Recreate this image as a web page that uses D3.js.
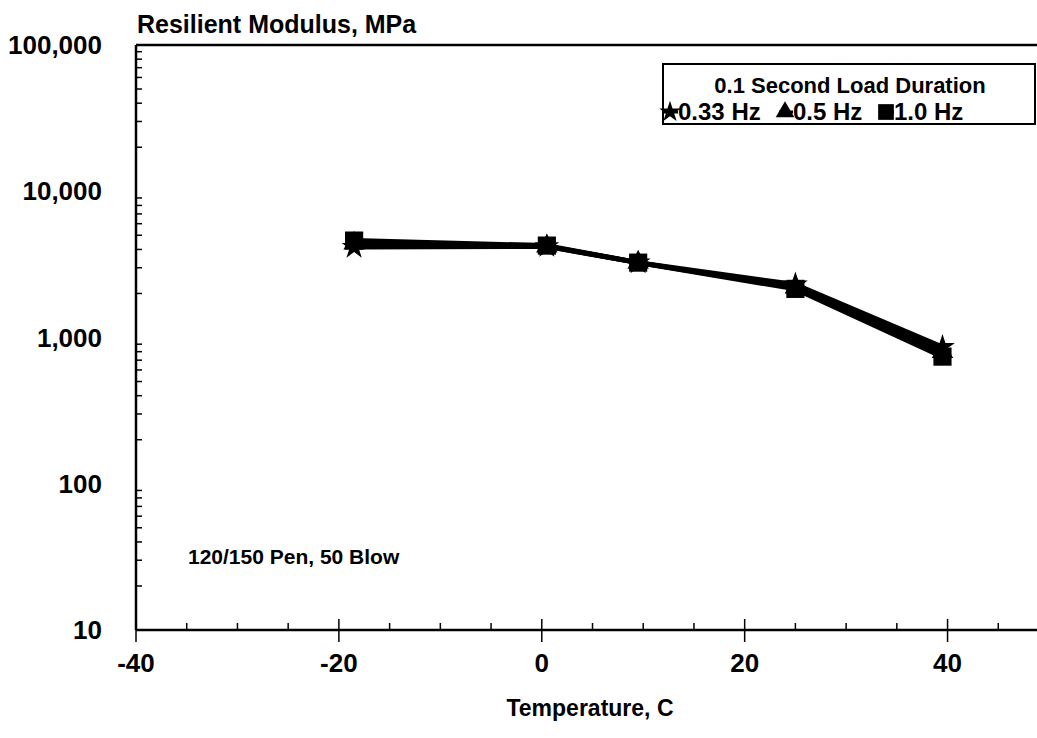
<!DOCTYPE html>
<html>
<head>
<meta charset="utf-8">
<script src="https://cdn.jsdelivr.net/npm/d3@7"></script>
<style>
  body { margin: 0; background: #fff; }
  svg { font-family: Arial, "Liberation Sans", sans-serif; }
</style>
</head>
<body>
<svg id="chart"></svg>
<script>
// temperatures (C) and resilient modulus (MPa) per loading frequency
const temps = [-18.5, 0.5, 9.5, 25, 39.5];
const hz033 = [4150, 4200, 3250, 2300, 860];
const hz05 = [4400, 4200, 3250, 2200, 800];
const hz10 = [4600, 4250, 3250, 2150, 740];
const seriesNames = ["0.33 Hz", "0.5 Hz", "1.0 Hz"];
const xTicks = [-40, -20, 0, 20, 40];
const yTicks = [10, 100, 1000, 10000, 100000];

const width = 1037, height = 738;
const margin = { top: 45, right: -12, bottom: 108, left: 136 };

const svg = d3.select("#chart").attr("width", width).attr("height", height);

const x = d3.scaleLinear().domain([-40, 50]).range([margin.left, width - margin.right]);
const y = d3.scaleLog().domain([10, 100000]).range([height - margin.bottom, margin.top]);

// top frame line
svg.append("line")
  .attr("x1", margin.left).attr("x2", width)
  .attr("y1", y(100000)).attr("y2", y(100000))
  .attr("stroke", "#000").attr("stroke-width", 2.5);

// y axis: labels, minor ticks inside
const yAxis = svg.append("g").attr("transform", `translate(${margin.left},0)`);
yAxis.append("line")
  .attr("y1", y(10)).attr("y2", y(100000))
  .attr("stroke", "#000").attr("stroke-width", 2.5);
const minorY = [];
for (let d = 10; d < 100000; d *= 10) {
  for (let k = 2; k <= 9; k++) minorY.push(d * k);
}
yAxis.selectAll("line.minor").data(minorY).enter().append("line")
  .attr("class", "minor")
  .attr("x1", 0).attr("x2", 6)
  .attr("y1", d => y(d)).attr("y2", d => y(d))
  .attr("stroke", "#000").attr("stroke-width", 1.5);
yAxis.selectAll("text").data(yTicks).enter().append("text")
  .attr("x", -34).attr("y", d => y(d))
  .attr("dy", "0.35em")
  .attr("text-anchor", "end")
  .style("font-size", "26px").style("font-weight", "bold")
  .text(d3.format(","));

// x axis
const xAxis = svg.append("g").attr("transform", `translate(0,${y(10)})`);
xAxis.append("line")
  .attr("x1", margin.left).attr("x2", width)
  .attr("stroke", "#000").attr("stroke-width", 2.5);
xAxis.selectAll("line.major").data(xTicks).enter().append("line")
  .attr("class", "major")
  .attr("x1", d => x(d)).attr("x2", d => x(d))
  .attr("y1", -11).attr("y2", 12)
  .attr("stroke", "#000").attr("stroke-width", 1.5);
const minorX = d3.range(-35, 50, 5).filter(d => d % 20 !== 0);
xAxis.selectAll("line.minor").data(minorX).enter().append("line")
  .attr("class", "minor")
  .attr("x1", d => x(d)).attr("x2", d => x(d))
  .attr("y1", -7).attr("y2", 0)
  .attr("stroke", "#000").attr("stroke-width", 1.5);
xAxis.selectAll("text").data(xTicks).enter().append("text")
  .attr("x", d => x(d)).attr("y", 24)
  .attr("dy", "0.71em")
  .attr("text-anchor", "middle")
  .style("font-size", "26px").style("font-weight", "bold")
  .text(d => d);

// titles
svg.append("text")
  .attr("x", 137).attr("y", 33)
  .style("font-size", "25px").style("font-weight", "bold")
  .text("Resilient Modulus, MPa");
svg.append("text")
  .attr("x", 590).attr("y", 716)
  .attr("text-anchor", "middle")
  .style("font-size", "23px").style("font-weight", "bold")
  .text("Temperature, C");
svg.append("text")
  .attr("x", 188).attr("y", 564)
  .style("font-size", "21px").style("font-weight", "bold")
  .text("120/150 Pen, 50 Blow");

// series
const symbols = [d3.symbolStar, d3.symbolTriangle, d3.symbolSquare];
const sizes = [190, 200, 330];
const allSeries = [hz033, hz05, hz10].map((vals, i) => ({
  name: seriesNames[i],
  symbol: symbols[i],
  size: sizes[i],
  points: temps.map((t, j) => ({ t, v: vals[j] }))
}));

const line = d3.line().x(d => x(d.t)).y(d => y(d.v));

allSeries.forEach(s => {
  svg.append("path")
    .datum(s.points)
    .attr("d", line)
    .attr("fill", "none")
    .attr("stroke", "#000")
    .attr("stroke-width", 5)
    .attr("stroke-linejoin", "round");
});
allSeries.forEach(s => {
  svg.selectAll(null).data(s.points).enter().append("path")
    .attr("d", d3.symbol().type(s.symbol).size(s.size))
    .attr("transform", d => `translate(${x(d.t)},${y(d.v)})`)
    .attr("fill", "#000");
});

// legend
const legend = svg.append("g").attr("transform", "translate(663,64)");
legend.append("rect")
  .attr("width", 372).attr("height", 60)
  .attr("fill", "#fff").attr("stroke", "#000").attr("stroke-width", 2);
legend.append("text")
  .attr("x", 187).attr("y", 29)
  .attr("text-anchor", "middle")
  .style("font-size", "22px").style("font-weight", "bold")
  .text("0.1 Second Load Duration");
const legendX = [7, 122, 223];
allSeries.forEach((s, i) => {
  legend.append("path")
    .attr("d", d3.symbol().type(s.symbol).size(s.size * 0.75))
    .attr("transform", `translate(${legendX[i]},${48})`)
    .attr("fill", "#000");
  legend.append("line")
    .attr("x1", legendX[i] - 6).attr("x2", legendX[i] + 8)
    .attr("y1", 48).attr("y2", 48)
    .attr("stroke", "#000").attr("stroke-width", 3);
  legend.append("text")
    .attr("x", legendX[i] + 8).attr("y", 56)
    .style("font-size", "24px").style("font-weight", "bold")
    .text(s.name);
});
</script>
</body>
</html>
